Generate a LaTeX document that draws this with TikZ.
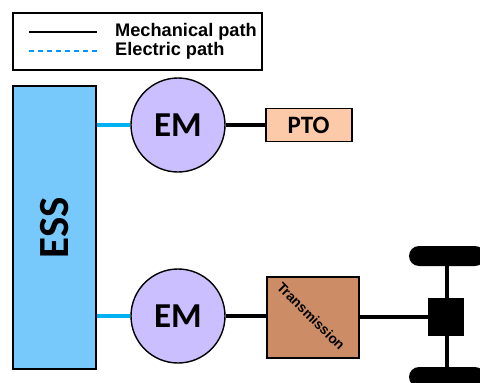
\documentclass[tikz,border=0pt]{standalone}
\usepackage{fontspec}
\setmainfont{Liberation Sans}
\newfontfamily\carlito{Carlito}
\usetikzlibrary{positioning}

\definecolor{essblue}{HTML}{77C9FB}
\definecolor{emlilac}{HTML}{CCBFFF}
\definecolor{ptopeach}{HTML}{FCC9A9}
\definecolor{transbrown}{HTML}{CB8C66}
\definecolor{elecblue}{HTML}{00B0F0}
\definecolor{legblue}{HTML}{0096FF}

\tikzset{
  mech/.style={line width=4.5pt, black},
  elec/.style={line width=4pt, elecblue},
  block/.style={rectangle, draw, line width=1.8pt},
  machine/.style={circle, draw, line width=1.4pt, fill=emlilac, minimum size=94pt, inner sep=0pt, font=\carlito\bfseries\fontsize{35}{35}\selectfont},
  wheel/.style={rectangle, fill=black, rounded corners=10pt, minimum width=76pt, minimum height=20pt}
}

\begin{document}
\begin{tikzpicture}[x=1pt, y=-1pt]
    \useasboundingbox (0,0) rectangle (480,383);
    % legend
    \node(legend) [block, line width=1.4pt, minimum width=249pt, minimum height=57pt] at (137.5,41.5){};
    \coordinate(mechA) at (29,32);
    \coordinate(mechB) at (97,32);
    \coordinate(elecA) at (29,51);
    \coordinate(elecB) at (97,51);
    \draw[line width=2.4pt] (mechA) -- (mechB);
    \draw[line width=2.4pt, legblue, dash pattern=on 5pt off 4pt] (elecA) -- (elecB);
    \node(mechtxt) [anchor=west, inner sep=0pt, font=\bfseries\fontsize{18.2}{18}\selectfont] at (115,32){Mechanical path};
    \node(electxt) [anchor=west, inner sep=0pt, font=\bfseries\fontsize{18.2}{18}\selectfont] at (115,51){Electric path};

    % storage and machines
    \node(ess) [block, fill=essblue, minimum width=83pt, minimum height=283pt] at (54.5,227.5){};
    \node(esstxt) [rotate=90, font=\carlito\bfseries\fontsize{43}{43}\selectfont] at (ess.center){ESS};
    \node(emtop) [machine] at (178,125){EM};
    \node(embot) [machine] at (178,316){EM};
    \node(pto) [block, fill=ptopeach, minimum width=86pt, minimum height=33pt, font=\carlito\bfseries\fontsize{25}{25}\selectfont, right = 39pt of emtop]{PTO};
    \node(trans) [block, fill=transbrown, minimum width=92pt, minimum height=81pt] at (313,317.5){};
    \node(transtxt) [rotate=-45, inner sep=0pt, font=\bfseries\fontsize{13.8}{13.8}\selectfont] at ([shift={(-2,-1.5)}]trans.center){Transmission};

    % driveline
    \node(diff) [rectangle, fill=black, minimum width=36pt, minimum height=38pt] at (446,317){};
    \node(wheeltop) [wheel] at (447,256){};
    \node(wheelbot) [wheel] at (447,377){};

    \draw[elec] (emtop.west -| ess.east) -- (emtop.west);
    \draw[elec] (embot.west -| ess.east) -- (embot.west);
    \draw[mech] (emtop) -- (pto);
    \draw[mech] (embot.east) -- (embot.east -| trans.west);
    \draw[mech] (trans.east |- diff.west) -- (diff.west);
    \draw[mech] (diff.north -| wheeltop.south) -- (wheeltop.south);
    \draw[mech] (diff.south -| wheelbot.north) -- (wheelbot.north);
  \end{tikzpicture}
\end{document}
